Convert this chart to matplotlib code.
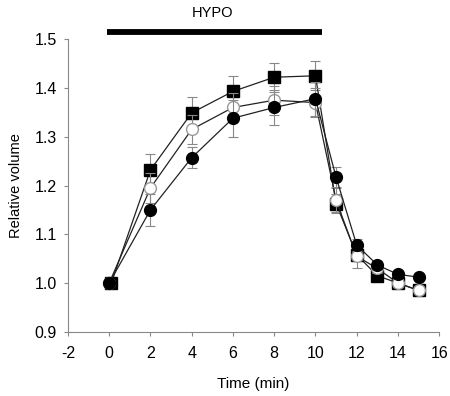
import matplotlib
matplotlib.use("Agg")
import matplotlib.pyplot as plt

plt.rcParams['font.family'] = ['Liberation Sans', 'DejaVu Sans']
plt.rcParams['axes.unicode_minus'] = False

# Zeit (min) und relatives Volumen
timeSq = [0.1, 2, 4, 6, 8, 10, 11, 12, 13, 14, 15]
time = [0, 2, 4, 6, 8, 10, 11, 12, 13, 14, 15]

squareVals = [1.0, 1.232, 1.349, 1.393, 1.422, 1.425, 1.163, 1.058, 1.015, 1.0, 0.985]
squareErr = [0, 0.033, 0.033, 0.032, 0.03, 0.03, 0.02, 0.01, 0.008, 0.006, 0.006]

openVals = [1.0, 1.195, 1.315, 1.360, 1.375, 1.37, 1.17, 1.055, 1.03, 1.0, 0.985]
openErr = [0, 0.03, 0.03, 0.03, 0.03, 0.03, 0.025, 0.025, 0.01, 0.008, 0.006]

filledVals = [1.0, 1.15, 1.257, 1.338, 1.36, 1.378, 1.217, 1.078, 1.037, 1.018, 1.012]
filledErr = [0, 0.033, 0.022, 0.038, 0.035, 0.035, 0.02, 0.012, 0.008, 0.006, 0.006]

hypoStart, hypoEnd = -0.1, 10.3

fig = plt.figure(figsize=(4.5, 3.96), dpi=100)
ax = fig.add_axes([0.151, 0.162, 0.825, 0.739])

common = dict(color='#222222', lw=0.9, ecolor='#888888', elinewidth=0.8,
              capsize=3.5, capthick=0.8, ms=8.5)

ax.errorbar(timeSq, squareVals, yerr=squareErr, fmt='s', ls='-',
            mfc='black', mec='black', zorder=2, **common)
ax.errorbar(time, openVals, yerr=openErr, fmt='o', ls='-',
            mfc='white', mec='#999999', zorder=3, **common)
ax.errorbar(time, filledVals, yerr=filledErr, fmt='o', ls='-',
            mfc='black', mec='black', zorder=4, **common)

# Balken fuer HYPO
ax.plot([hypoStart, hypoEnd], [1.514, 1.514], color='black', lw=4.2,
        solid_capstyle='butt', clip_on=False)
ax.text(5, 1.553, "HYPO", ha='center', va='center', fontsize=10.5)

ax.set_xlim(-2, 16)
ax.set_ylim(0.9, 1.5)
ax.set_xticks(range(-2, 17, 2))
ax.set_yticks([0.9, 1.0, 1.1, 1.2, 1.3, 1.4, 1.5])
ax.set_yticklabels(["0.9", "1.0", "1.1", "1.2", "1.3", "1.4", "1.5"])

ax.spines['top'].set_visible(False)
ax.spines['right'].set_visible(False)
for s in ['left', 'bottom']:
    ax.spines[s].set_color('#888888')
    ax.spines[s].set_linewidth(0.8)
ax.tick_params(direction='out', length=3, width=0.8, color='#888888',
               labelsize=11.5)
ax.tick_params(axis='x', pad=7)
ax.tick_params(axis='y', pad=5)

ax.set_xlabel("Time (min)", fontsize=11, labelpad=12)
ax.set_ylabel("Relative volume", fontsize=10.5, labelpad=8)

fig.savefig("out.png", dpi=100)
